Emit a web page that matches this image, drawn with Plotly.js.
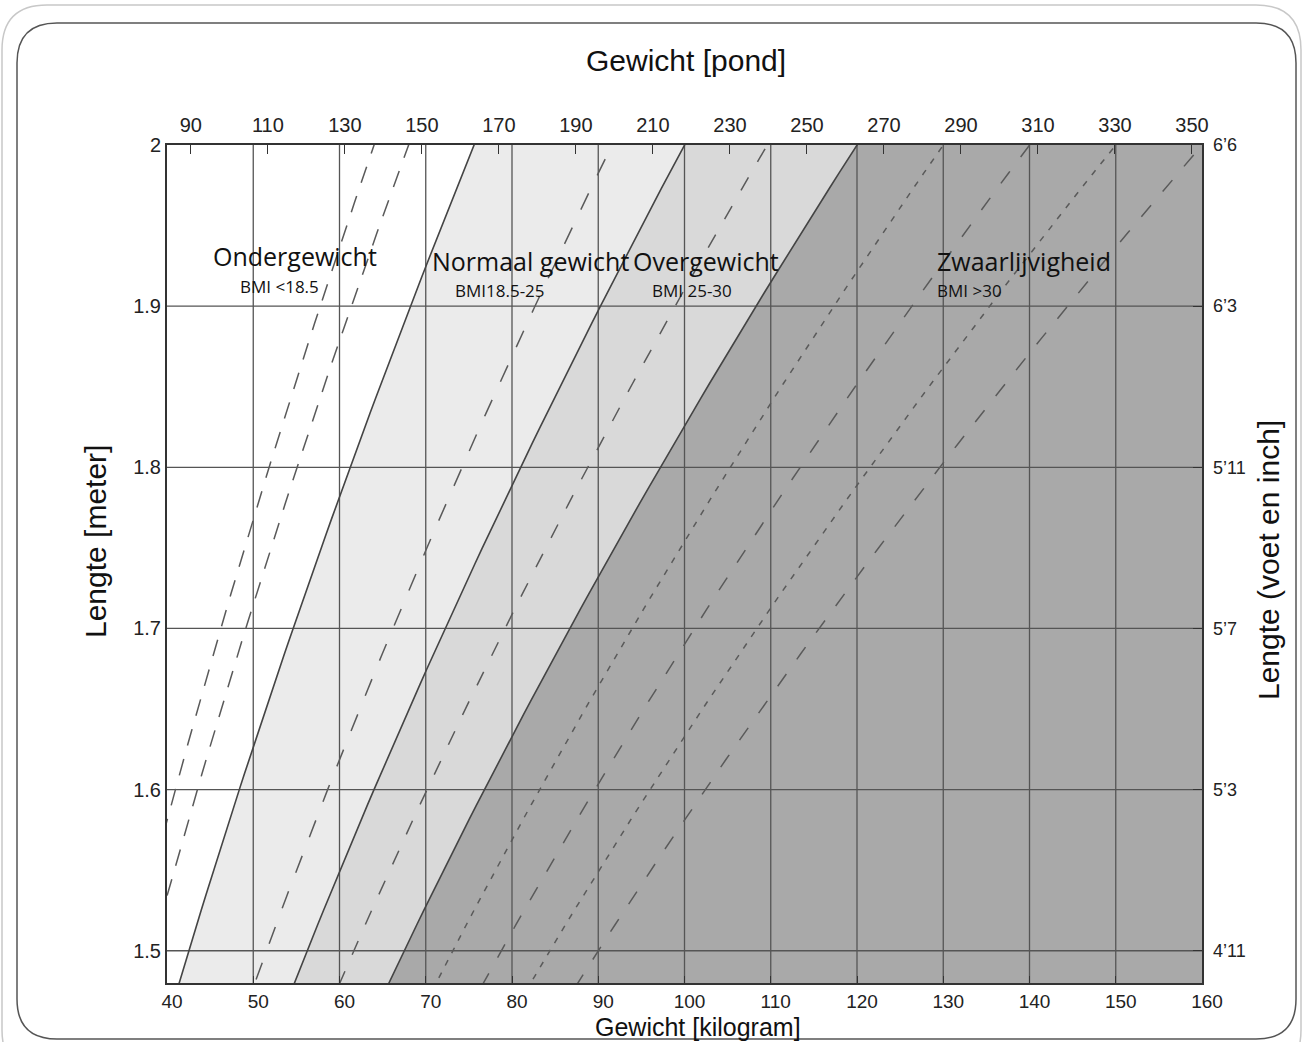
<!DOCTYPE html>
<html>
<head>
<meta charset="utf-8">
<script src="https://cdn.plot.ly/plotly-3.0.1.min.js"></script>
<style>
  html, body { margin: 0; padding: 0; background: #fff; }
  #bmiChart { width: 1304px; height: 1042px; }
</style>
</head>
<body>
<div id="bmiChart"></div>
<script>
// grenzen tussen de gebieden (doorgetrokken) en tussenlijnen (gestreept)
const solidBmi = [18.9, 25, 30];
const dashedBmi = [16, 17, 22.9, 27.4, 32.5, 35, 37.5, 40];

const kgTicks = [40, 50, 60, 70, 80, 90, 100, 110, 120, 130, 140, 150, 160];
const lbTicks = [90, 110, 130, 150, 170, 190, 210, 230, 250, 270, 290, 310, 330, 350];
const meterTicks = [1.5, 1.6, 1.7, 1.8, 1.9, 2.0];
const meterLabels = ['1.5', '1.6', '1.7', '1.8', '1.9', '2'];
const feetLabels = ['4’11', '5’3', '5’7', '5’11', '6’3', '6’6'];

const kgRange = [40, 160];
const lbRange = [83.8, 352.6];
const heightRange = [1.48, 2.0];

const bandColors = ['#ebebeb', '#d9d9d9', '#a9a9a9'];
const dashPatterns = ['17px,14px', '17px,14px', '18px,20px', '15px,18px', '6px,8px', '15px,18px', '6px,8px', '15px,18px'];

// plot area in pixels, used for the frames and titles
const W = 1304, H = 1042;
const M = { l: 167, r: 102, t: 145, b: 59 };
const plotW = W - M.l - M.r;
const plotH = H - M.t - M.b;

function px(x) { return (x - M.l) / plotW; }
function py(y) { return (H - M.b - y) / plotH; }

// heights used to trace a BMI curve (weight = bmi * h^2)
const curveH = [];
for (let i = 0; i <= 60; i++) {
    curveH.push(heightRange[0] - 0.02 + (heightRange[1] - heightRange[0] + 0.04) * i / 60);
}

function bmiCurve(bmi) {
    return {
        x: curveH.map(h => bmi * h * h),
        y: curveH.slice()
    };
}

const data = [];

// shaded bands
solidBmi.forEach((lo, i) => {
    const lower = bmiCurve(lo);
    let upX, upY;
    if (i + 1 < solidBmi.length) {
        const upper = bmiCurve(solidBmi[i + 1]);
        upX = upper.x.slice().reverse();
        upY = upper.y.slice().reverse();
    } else {
        upX = [kgRange[1] + 5, kgRange[1] + 5];
        upY = [curveH[curveH.length - 1], curveH[0]];
    }
    data.push({
        type: 'scatter',
        mode: 'lines',
        x: lower.x.concat(upX),
        y: lower.y.concat(upY),
        fill: 'toself',
        fillcolor: bandColors[i],
        line: { width: 0 },
        hoverinfo: 'skip',
        showlegend: false
    });
});

// grid lines on top of the shading
const gx = [], gy = [];
kgTicks.slice(1, -1).forEach(v => { gx.push(v, v, null); gy.push(heightRange[0], heightRange[1], null); });
meterTicks.slice(0, -1).forEach(v => { gx.push(kgRange[0], kgRange[1], null); gy.push(v, v, null); });
data.push({
    type: 'scatter',
    mode: 'lines',
    x: gx,
    y: gy,
    line: { color: '#555', width: 1.3 },
    hoverinfo: 'skip',
    showlegend: false
});

dashedBmi.forEach((b, i) => {
    const c = bmiCurve(b);
    data.push({
        type: 'scatter',
        mode: 'lines',
        x: c.x,
        y: c.y,
        line: { color: '#5a5a5a', width: 1.5, dash: dashPatterns[i] },
        hoverinfo: 'skip',
        showlegend: false
    });
});

solidBmi.forEach(b => {
    const c = bmiCurve(b);
    data.push({
        type: 'scatter',
        mode: 'lines',
        x: c.x,
        y: c.y,
        line: { color: '#444', width: 1.6 },
        hoverinfo: 'skip',
        showlegend: false
    });
});

// carrier for the pound / feet axes
data.push({
    type: 'scatter',
    mode: 'markers',
    x: [lbTicks[0]],
    y: [meterTicks[0]],
    xaxis: 'x2',
    yaxis: 'y2',
    marker: { opacity: 0 },
    hoverinfo: 'skip',
    showlegend: false
});

function roundRect(x0, y0, x1, y1, r) {
    const p = (x, y) => px(x) + ',' + py(y);
    return 'M' + p(x0 + r, y0) +
        ' L' + p(x1 - r, y0) + ' Q' + p(x1, y0) + ' ' + p(x1, y0 + r) +
        ' L' + p(x1, y1 - r) + ' Q' + p(x1, y1) + ' ' + p(x1 - r, y1) +
        ' L' + p(x0 + r, y1) + ' Q' + p(x0, y1) + ' ' + p(x0, y1 - r) +
        ' L' + p(x0, y0 + r) + ' Q' + p(x0, y0) + ' ' + p(x0 + r, y0) + ' Z';
}

const labelFont = { family: 'Open Sans, sans-serif', size: 25, color: '#111' };
const smallFont = { family: 'Open Sans, sans-serif', size: 17, color: '#111' };
const titleFont = { family: 'Liberation Sans, Arial, sans-serif', size: 30, color: '#111' };

function zoneLabel(text, x, y, font) {
    return { text: text, x: x, y: y, xref: 'x', yref: 'y', xanchor: 'left', yanchor: 'middle', showarrow: false, font: font };
}

function pageText(text, x, y, angle, size) {
    const f = Object.assign({}, titleFont, size ? { size: size } : {});
    return { text: text, x: px(x), y: py(y), xref: 'paper', yref: 'paper', xanchor: 'center', yanchor: 'middle',
             showarrow: false, textangle: angle || 0, font: f };
}

const layout = {
    width: W,
    height: H,
    margin: M,
    paper_bgcolor: '#fff',
    plot_bgcolor: '#fff',
    font: { family: 'Liberation Sans, Arial, sans-serif', color: '#222' },
    showlegend: false,
    hovermode: false,
    xaxis: {
        range: kgRange,
        tickmode: 'array',
        tickvals: kgTicks,
        ticks: 'inside',
        ticklen: 7,
        tickcolor: '#333',
        ticklabelshift: 5,
        showgrid: false,
        zeroline: false,
        showline: true,
        linecolor: '#333',
        linewidth: 2,
        mirror: true,
        tickfont: { size: 19 },
        fixedrange: true
    },
    xaxis2: {
        overlaying: 'x',
        side: 'top',
        range: lbRange,
        tickmode: 'array',
        tickvals: lbTicks,
        ticks: 'inside',
        ticklen: 9,
        tickcolor: '#333',
        ticklabelstandoff: 8,
        showgrid: false,
        zeroline: false,
        showline: false,
        tickfont: { size: 20 },
        fixedrange: true
    },
    yaxis: {
        range: heightRange,
        tickmode: 'array',
        tickvals: meterTicks,
        ticktext: meterLabels,
        ticks: '',
        ticklabelstandoff: 0,
        showgrid: false,
        zeroline: false,
        showline: true,
        linecolor: '#333',
        linewidth: 2,
        mirror: true,
        tickfont: { size: 20 },
        fixedrange: true
    },
    yaxis2: {
        overlaying: 'y',
        side: 'right',
        range: heightRange,
        tickmode: 'array',
        tickvals: meterTicks,
        ticktext: feetLabels,
        ticks: 'inside',
        ticklen: 9,
        tickcolor: '#333',
        ticklabelstandoff: 10,
        showgrid: false,
        zeroline: false,
        showline: false,
        tickfont: { size: 18 },
        fixedrange: true
    },
    shapes: [
        { type: 'path', xref: 'paper', yref: 'paper', path: roundRect(2, 5, 1301, 1075, 45),
          line: { color: '#c8c8c8', width: 1.5 }, layer: 'below' },
        { type: 'path', xref: 'paper', yref: 'paper', path: roundRect(17, 23, 1296, 1039, 40),
          line: { color: '#555', width: 1.5 }, layer: 'below' }
    ],
    annotations: [
        zoneLabel('Ondergewicht', 45.1, 1.9311, labelFont),
        zoneLabel('BMI <18.5', 48.2, 1.9125, smallFont),
        zoneLabel('Normaal gewicht', 70.5, 1.9280, labelFont),
        zoneLabel('BMI18.5-25', 73.2, 1.9100, smallFont),
        zoneLabel('Overgewicht', 93.8, 1.9280, labelFont),
        zoneLabel('BMI 25-30', 96.0, 1.9100, smallFont),
        zoneLabel('Zwaarlijvigheid', 129.0, 1.9280, labelFont),
        zoneLabel('BMI >30', 129.0, 1.9100, smallFont),
        pageText('Gewicht [pond]', 686, 61),
        pageText('Gewicht [kilogram]', 698, 1027, 0, 25),
        pageText('Lengte [meter]', 95, 542, -90),
        pageText('Lengte (voet en inch]', 1268, 560, -90)
    ]
};

Plotly.newPlot('bmiChart', data, layout, { staticPlot: true, displayModeBar: false });
</script>
</body>
</html>
